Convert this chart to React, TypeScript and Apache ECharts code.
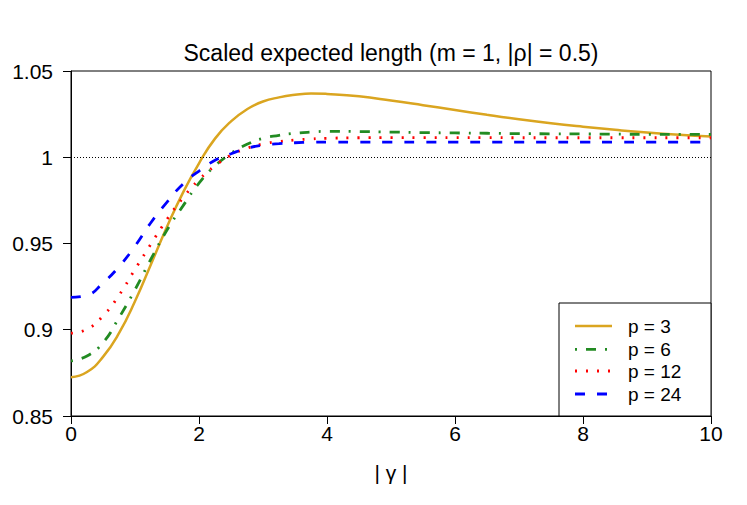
import React, { useEffect, useRef } from "react";
import * as echarts from "echarts";

const xValues = [0, 0.25, 0.5, 0.75, 1, 1.25, 1.5, 1.75, 2, 2.25, 2.5, 2.75, 3, 3.25, 3.5, 3.75, 4, 4.5, 5, 5.5, 6, 6.5, 7, 7.5, 8, 8.5, 9, 9.5, 10];
const p3 = [0.8724, 0.8755, 0.8843, 0.898, 0.9165, 0.938, 0.9597, 0.9795, 0.9965, 1.0108, 1.0208, 1.0278, 1.0323, 1.0347, 1.0362, 1.037, 1.0367, 1.0353, 1.0329, 1.0302, 1.0274, 1.0246, 1.022, 1.0197, 1.0177, 1.0159, 1.0143, 1.013, 1.012];
const p6 = [0.882, 0.8848, 0.8925, 0.907, 0.9232, 0.941, 0.9578, 0.9718, 0.985, 0.995, 1.0022, 1.0075, 1.011, 1.0127, 1.0139, 1.0146, 1.015, 1.0149, 1.0146, 1.0143, 1.0141, 1.0139, 1.0137, 1.0136, 1.0135, 1.0134, 1.0133, 1.0133, 1.0132];
const p12 = [0.898, 0.9003, 0.908, 0.92, 0.935, 0.9497, 0.964, 0.9765, 0.987, 0.995, 1.0012, 1.0052, 1.0077, 1.0091, 1.01, 1.0106, 1.011, 1.0113, 1.0114, 1.0114, 1.0114, 1.0114, 1.0113, 1.0113, 1.0113, 1.0113, 1.0113, 1.0113, 1.0113];
const p24 = [0.9188, 0.92, 0.9272, 0.9366, 0.9485, 0.9622, 0.974, 0.9845, 0.992, 0.9982, 1.002, 1.0052, 1.007, 1.0079, 1.0084, 1.0087, 1.0088, 1.0088, 1.0088, 1.0088, 1.0088, 1.0088, 1.0088, 1.0088, 1.0088, 1.0088, 1.0088, 1.0088, 1.0088];
const seriesNames = ["p = 3", "p = 6", "p = 12", "p = 24"];
const seriesColors = ["#DAA520", "#228B22", "#FF0000", "#0000FF"];
const seriesDash: any[] = ["solid", [2, 9, 10, 9], [2, 9], [10, 12]];
const refLine = 1;

const FONT = "Liberation Sans, Arial, Helvetica, sans-serif";

export default function App() {
  const ref = useRef<HTMLDivElement>(null);
  useEffect(() => {
    if (!ref.current) return;
    const chart = echarts.init(ref.current, undefined, { renderer: "svg" });
    const all = [p3, p6, p12, p24];
    const series: any[] = all.map((vals, i) => ({
      name: seriesNames[i],
      type: "line",
      data: xValues.map((x, j) => [x, vals[j]]),
      smooth: 0.5,
      symbol: "none",
      showSymbol: false,
      lineStyle: { color: seriesColors[i], width: i === 0 ? 2.5 : 2.8, type: seriesDash[i], cap: "butt" },
      itemStyle: { color: seriesColors[i] },
      z: 3 + i,
    }));
    series[0].markLine = {
      silent: true,
      symbol: "none",
      label: { show: false },
      lineStyle: { color: "#000", width: 1, type: [1, 2] },
      data: [{ yAxis: refLine }],
    };

    // legend drawn manually (box at bottom-right corner of the plot)
    const lgLeft = 559, lgTop = 303, lgW = 152, lgH = 113;
    const rowY = [326, 349.3, 371, 394];
    const legendChildren: any[] = [
      { type: "rect", shape: { x: lgLeft, y: lgTop, width: lgW, height: lgH }, style: { fill: "#fff", stroke: "#000", lineWidth: 1 } },
    ];
    seriesNames.forEach((n, i) => {
      legendChildren.push({
        type: "line",
        shape: { x1: 575, y1: rowY[i], x2: 612, y2: rowY[i] },
        style: {
          stroke: seriesColors[i],
          lineWidth: i === 0 ? 2.5 : 2.8,
          lineDash: seriesDash[i] === "solid" ? null : seriesDash[i],
          lineCap: "butt",
        },
      });
      legendChildren.push({
        type: "text",
        x: 628,
        y: rowY[i],
        style: { text: n, fontFamily: FONT, fontSize: 19, fill: "#000", verticalAlign: "middle", align: "left" },
      });
    });

    chart.setOption({
      animation: false,
      backgroundColor: "#fff",
      grid: {
        left: 71,
        right: 36,
        top: 71,
        bottom: 89,
        show: true,
        borderColor: "#000",
        borderWidth: 1,
        backgroundColor: "transparent",
      },
      graphic: [
        {
          type: "text",
          x: 391,
          y: 53,
          z: 20,
          style: {
            text: "Scaled expected length (m = 1, |\u03C1| = 0.5)",
            fontFamily: FONT,
            fontSize: 23,
            fill: "#000",
            align: "center",
            verticalAlign: "middle",
          },
        },
        { type: "group", z: 50, children: legendChildren },
      ],
      xAxis: {
        type: "value",
        min: 0,
        max: 10,
        interval: 2,
        name: "| \u03B3 |",
        nameLocation: "middle",
        nameGap: 46,
        nameTextStyle: { fontFamily: FONT, fontSize: 21, color: "#000" },
        axisLine: { show: true, lineStyle: { color: "#000", width: 1 } },
        axisTick: { show: true, length: 8, lineStyle: { color: "#000" } },
        axisLabel: { fontFamily: FONT, fontSize: 21, color: "#000", margin: 7 },
        splitLine: { show: false },
      },
      yAxis: {
        type: "value",
        min: 0.85,
        max: 1.05,
        interval: 0.05,
        axisLine: { show: true, lineStyle: { color: "#000", width: 1 } },
        axisTick: { show: true, length: 8, lineStyle: { color: "#000" } },
        axisLabel: { fontFamily: FONT, fontSize: 21, color: "#000", margin: 18 },
        splitLine: { show: false },
      },
      series,
    });
    return () => chart.dispose();
  }, []);
  return <div ref={ref} style={{ width: 747, height: 505, position: "absolute", left: 0, top: 0 }} />;
}
